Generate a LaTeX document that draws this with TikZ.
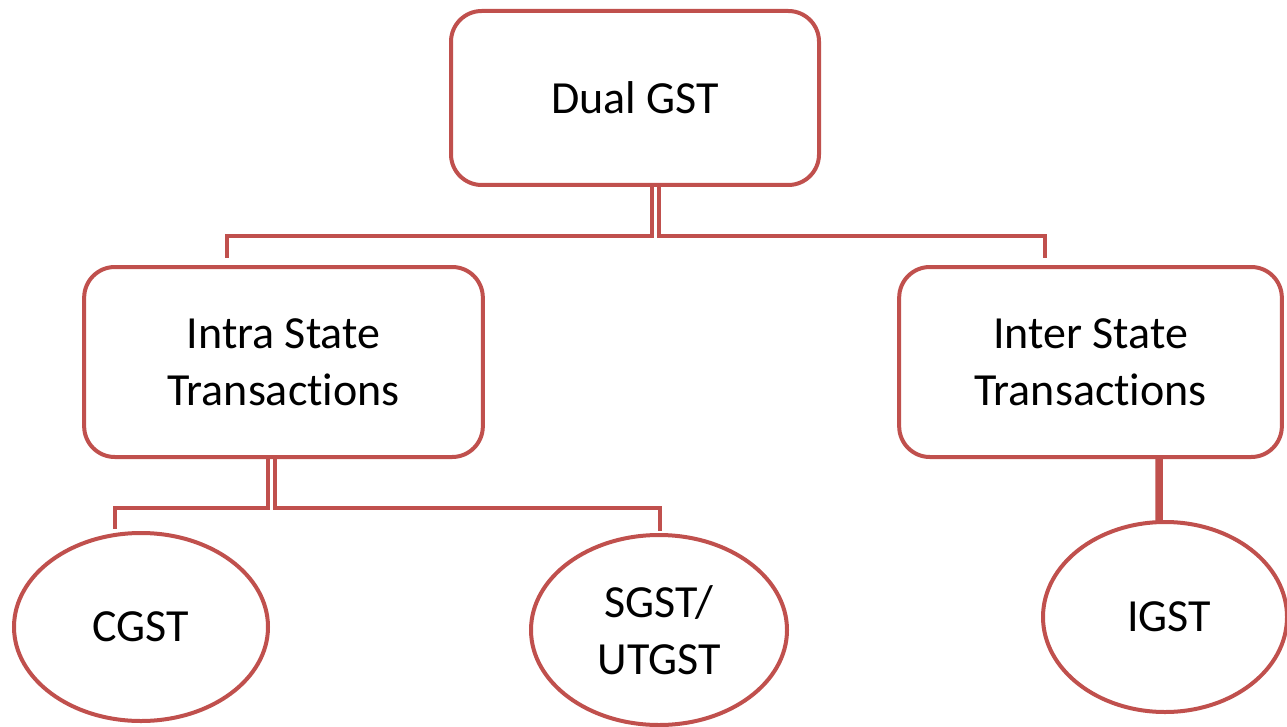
\documentclass[tikz,border=0pt]{standalone}
\usepackage{fontspec}
\setmainfont{Carlito}[Ligatures=NoCommon]
\usetikzlibrary{shapes.geometric}
\definecolor{accred}{HTML}{C0504D}
\tikzset{
  box/.style={draw=accred, line width=3pt, rounded corners=23pt, align=center, outer sep=0pt, inner sep=0pt,
    font=\fontsize{34.5}{43}\selectfont},
  oval/.style={draw=accred, ellipse, line width=3pt, align=center, outer sep=0pt, inner sep=0pt,
    font=\fontsize{34.5}{43}\selectfont},
  link/.style={draw=accred, line width=3pt},
}
\begin{document}
\begin{tikzpicture}[x=0.75pt,y=-0.75pt]
\useasboundingbox (0,0) rectangle (1287,727);
\fill[white] (0,0) rectangle (1287,727);
\node[box, minimum width=276pt, minimum height=130.5pt] (dual) at (635,98) {Dual GST};
\node[box, minimum width=299pt, minimum height=142.5pt] (intra) at (283.5,362) {Intra State\\Transact\kern0pt ions};
\node[box, minimum width=287pt, minimum height=142.5pt] (inter) at (1090.5,362) {Inter State\\Transact\kern0pt ions};
\node[oval, minimum width=190.5pt, minimum height=141pt] (cgst) at (141,627) {CGST};
\node[oval, minimum width=192pt, minimum height=142.5pt] (sgst) at (659,630) {SGST/\\UTGST};
\node[oval, minimum width=183pt, minimum height=142.5pt] (igst) at (1165,617) {\hspace*{6pt}IGST};
\coordinate (jl) at (227,258);
\coordinate (jr) at (1045,258);
\coordinate (jc) at (115,529);
\coordinate (js) at (660,531);
\draw[link] ([xshift=12.75pt]dual.south) -- ++(0,51) -| (jl);
\draw[link] ([xshift=18pt]dual.south) -- ++(0,51) -| (jr);
\draw[link] ([xshift=-11.6pt]intra.south) -- ++(0,51) -| (jc);
\draw[link] ([xshift=-6.4pt]intra.south) -- ++(0,51) -| (js);
\draw[link, line width=5.6pt] ([xshift=51.4pt]inter.south) -- ([xshift=-4.5pt]igst.north);
\end{tikzpicture}
\end{document}
